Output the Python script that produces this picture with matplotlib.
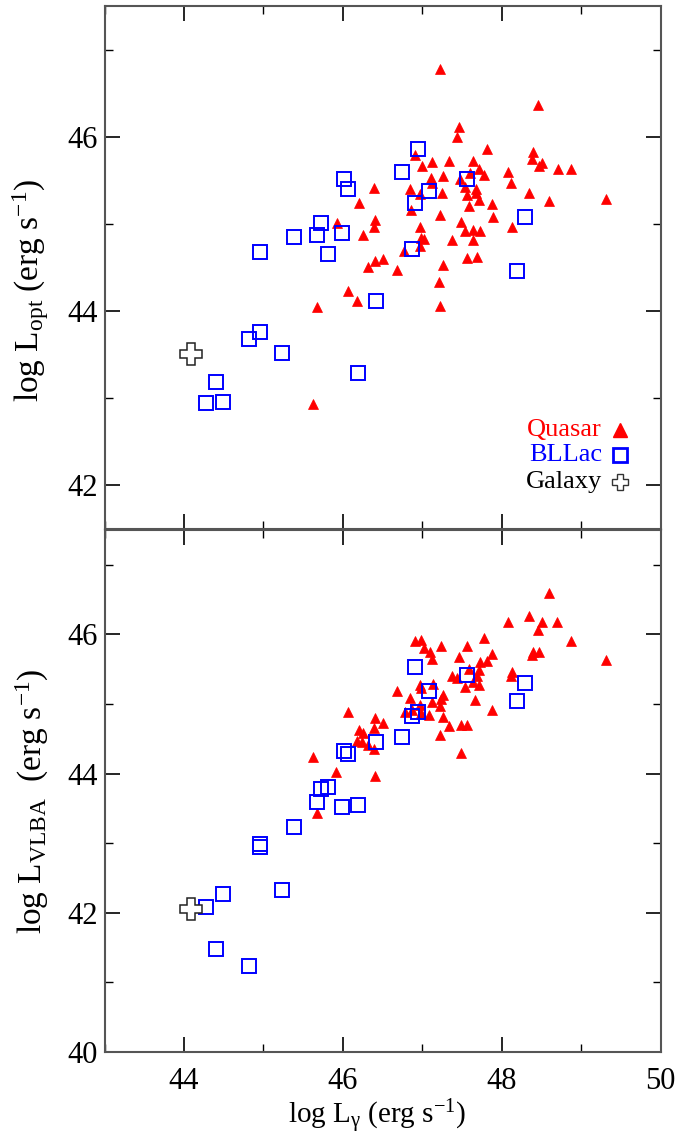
import matplotlib
matplotlib.use("Agg")
import matplotlib.pyplot as plt
from matplotlib.ticker import MultipleLocator

plt.rcParams['font.family'] = ['Liberation Serif', 'DejaVu Serif']
plt.rcParams['mathtext.fontset'] = 'custom'
plt.rcParams['mathtext.rm'] = 'Liberation Serif'
plt.rcParams['mathtext.it'] = 'Liberation Serif:italic'

# ---------------- data ----------------
# Quasars, top panel (log L_gamma, log L_opt)
q_lgam_opt = [46.39, 46.21, 45.93, 46.41, 46.39, 46.25, 46.32, 46.41, 46.50, 46.68,
              46.07, 46.18, 45.68, 45.63, 47.22, 48.46, 47.46, 47.44, 47.82, 46.91,
              48.40, 48.38, 48.51, 48.47, 48.71, 48.87, 47.00, 47.12, 47.34, 47.64,
              47.72, 47.78, 48.08, 48.12, 47.26, 47.11, 47.12, 47.60, 47.48, 47.54,
              47.57, 47.68, 47.68, 47.71, 46.84, 46.97, 47.25, 46.86, 48.35, 48.60,
              49.31, 47.88, 47.59, 47.22, 47.89, 48.13, 47.49, 47.54, 47.64, 47.73,
              46.97, 46.99, 47.02, 46.97, 47.38, 47.64, 46.77, 47.56, 47.69, 47.26,
              47.21, 47.23]
q_lopt = [45.41, 45.24, 45.01, 45.04, 44.97, 44.87, 44.51, 44.57, 44.60, 44.47,
          44.23, 44.11, 44.05, 42.93, 46.78, 46.36, 46.11, 46.00, 45.86, 45.79,
          45.83, 45.74, 45.70, 45.66, 45.63, 45.63, 45.66, 45.71, 45.72, 45.72,
          45.63, 45.56, 45.60, 45.47, 45.55, 45.53, 45.47, 45.58, 45.52, 45.42,
          45.33, 45.40, 45.35, 45.27, 45.40, 45.34, 45.35, 45.16, 45.36, 45.26,
          45.29, 45.23, 45.20, 45.10, 45.08, 44.97, 45.02, 44.92, 44.93, 44.92,
          44.96, 44.84, 44.83, 44.75, 44.81, 44.81, 44.69, 44.61, 44.62, 44.53,
          44.33, 44.06]

# Quasars, bottom panel (log L_gamma, log L_VLBA)
q_lgam_vlba = [46.68, 46.07, 46.41, 46.50, 46.39, 46.21, 46.25, 46.18, 46.24, 46.32,
               46.39, 45.63, 45.92, 46.41, 45.68, 48.60, 48.35, 48.51, 48.70, 48.08,
               48.46, 48.87, 49.31, 48.39, 48.38, 48.47, 46.91, 46.99, 47.02, 47.10,
               47.12, 47.24, 47.57, 47.78, 47.88, 47.82, 47.73, 47.46, 47.71, 47.69,
               47.59, 47.38, 47.44, 47.64, 47.54, 47.72, 48.13, 48.12, 47.88, 47.66,
               46.97, 46.98, 47.14, 46.84, 47.26, 47.24, 47.12, 47.22, 46.78, 46.87,
               46.97, 46.99, 47.09, 47.26, 47.34, 47.49, 47.57, 47.22, 47.49]
q_lvlba = [45.19, 44.88, 44.80, 44.72, 44.65, 44.62, 44.59, 44.47, 44.45, 44.41,
           44.36, 44.24, 44.02, 43.96, 43.43, 46.60, 46.27, 46.18, 46.18, 46.18,
           46.06, 45.90, 45.63, 45.75, 45.71, 45.75, 45.91, 45.92, 45.80, 45.75,
           45.65, 45.84, 45.84, 45.95, 45.72, 45.62, 45.61, 45.67, 45.49, 45.40,
           45.50, 45.40, 45.38, 45.32, 45.25, 45.27, 45.46, 45.40, 44.92, 45.06,
           45.27, 45.23, 45.29, 45.08, 45.13, 45.07, 45.03, 44.97, 44.88, 44.92,
           44.99, 44.87, 44.84, 44.82, 44.68, 44.70, 44.70, 44.56, 44.29]

# BL Lacs (same sources in both panels)
b_lgam = [46.02, 46.06, 46.74, 45.72, 45.38, 45.68, 45.99, 44.96, 44.96, 45.81,
          46.42, 44.82, 45.24, 46.19, 44.40, 44.28, 44.49, 46.95, 47.56, 47.09,
          46.91, 48.29, 46.87, 48.19]
b_lopt = [45.52, 45.40, 45.59, 45.01, 44.85, 44.87, 44.90, 44.68, 43.76, 44.66,
          44.12, 43.68, 43.52, 43.29, 43.19, 42.94, 42.96, 45.86, 45.51, 45.38,
          45.24, 45.08, 44.71, 44.46]
b_lvlba = [44.32, 44.28, 44.52, 43.78, 43.23, 43.59, 43.52, 42.99, 42.94, 43.81,
           44.46, 41.23, 42.33, 43.55, 41.48, 42.09, 42.27, 44.88, 45.41, 45.19,
           45.53, 45.30, 44.83, 45.05]

# Galaxy
g_lgam = [44.09]
g_lopt = [43.51]
g_lvlba = [42.06]

legend_labels = ["Quasar", "BLLac", "Galaxy"]
legend_colors = ["red", "blue", "black"]

# ---------------- figure ----------------
W, H = 699, 1138
fig = plt.figure(figsize=(W / 100, H / 100), dpi=100)

left = 104.5 / W
width = (660.5 - 104.5) / W
ax1 = fig.add_axes([left, 1 - 529 / H, width, 523 / H])
ax2 = fig.add_axes([left, 1 - 1052 / H, width, 522 / H])

tri_kw = dict(marker='^', color='red', markersize=7.5, linestyle='none', markeredgewidth=0.5)
sq_kw = dict(marker='s', markerfacecolor='none', markeredgecolor='blue',
             markersize=10.5, markeredgewidth=1.4, linestyle='none')
gal_kw = dict(marker='P', markerfacecolor='white', markeredgecolor='#222222',
              markersize=16, markeredgewidth=1.1, linestyle='none')

ax1.plot(q_lgam_opt, q_lopt, **tri_kw)
ax1.plot(b_lgam, b_lopt, **sq_kw)
ax1.plot(g_lgam, g_lopt, **gal_kw)

ax2.plot(q_lgam_vlba, q_lvlba, **tri_kw)
ax2.plot(b_lgam, b_lvlba, **sq_kw)
ax2.plot(g_lgam, g_lvlba, **gal_kw)

ax1.set_xlim(43, 50)
ax1.set_ylim(41.5, 47.5)
ax2.set_xlim(43, 50)
ax2.set_ylim(40, 47.5)

for ax in (ax1, ax2):
    ax.xaxis.set_major_locator(MultipleLocator(2))
    ax.xaxis.set_minor_locator(MultipleLocator(1))
    ax.yaxis.set_major_locator(MultipleLocator(2))
    ax.yaxis.set_minor_locator(MultipleLocator(1))
    ax.tick_params(which='both', direction='in', top=True, right=True, color='black')
    ax.tick_params(which='major', length=11, width=1.2, labelsize=22)
    ax.tick_params(which='minor', length=6, width=1.0)
    ax.tick_params(axis='x', which='major', pad=11)
    ax.tick_params(axis='y', which='major', pad=5)
    for s in ax.spines.values():
        s.set_color('#555555')
        s.set_linewidth(1.5)

ax1.tick_params(axis='x', labelbottom=False)

ax1.set_ylabel(r"log L$_{\rm opt}$ (erg s$^{-1}$)", fontsize=24)
ax2.set_ylabel(r"log L$_{\rm VLBA}$  (erg s$^{-1}$)", fontsize=24)
ax2.set_xlabel(r"log L$_{\rm \gamma}$ (erg s$^{-1}$)", fontsize=21)
ax1.yaxis.set_label_coords(-0.097, 0.457)
ax2.yaxis.set_label_coords(-0.097, 0.481)
ax2.xaxis.set_label_coords(0.491, -0.087)

# legend (top panel, lower right)
ly = [0.189, 0.1415, 0.090]
lmk = [dict(marker='^', color='red', markersize=10),
       dict(marker='s', markerfacecolor='none', markeredgecolor='blue', markersize=10.5, markeredgewidth=2),
       dict(marker='P', markerfacecolor='white', markeredgecolor='#333333', markersize=11.5, markeredgewidth=1)]
for lab, col, yy, mk in zip(legend_labels, legend_colors, ly, lmk):
    ax1.text(0.895, yy, lab, color=col, fontsize=19, ha='right', va='center',
             transform=ax1.transAxes)
    ax1.plot([0.927], [yy], transform=ax1.transAxes, linestyle='none', **mk)

fig.savefig("out.png", dpi=100)
